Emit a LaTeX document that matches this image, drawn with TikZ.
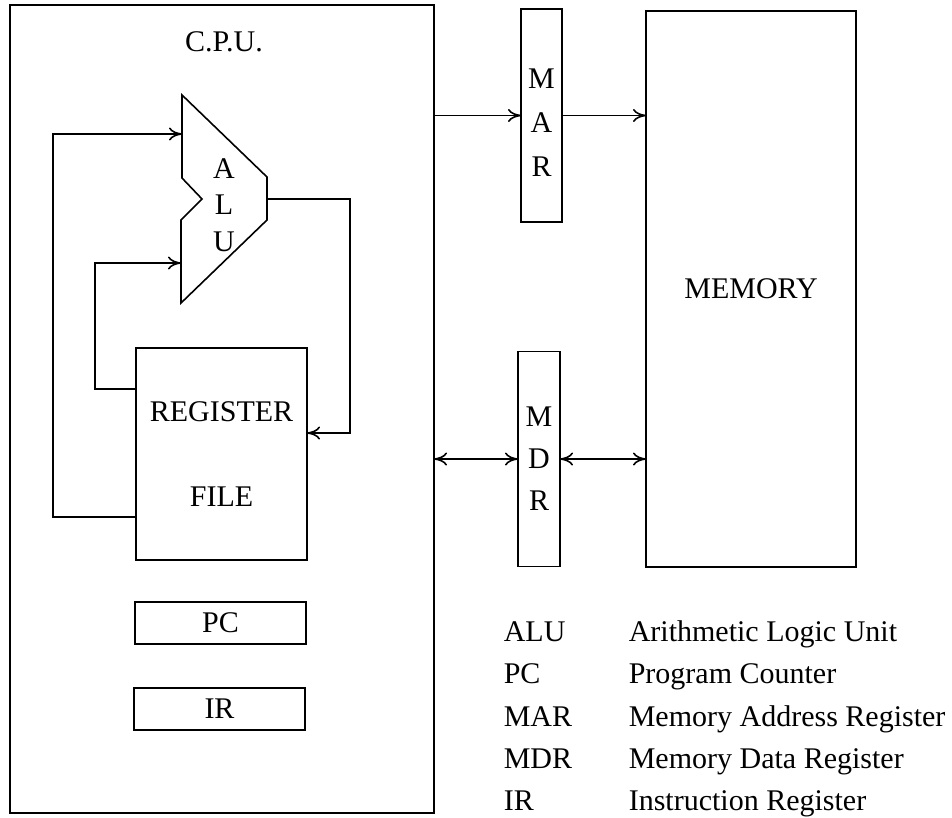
\documentclass[tikz,border=0pt]{standalone}
\usepackage{fontspec}
\setmainfont{Liberation Serif}
\usetikzlibrary{arrows.meta}

\begin{document}
\begin{tikzpicture}[x = 1pt, y = -1pt, line width = 1.6pt,
						>={To[length=13pt, width=13pt]},
						font=\fontsize{30}{36}\selectfont,
						unit/.style={draw, inner sep=0pt, outer sep=0pt, align=center},
						legend/.style={anchor=base west, inner sep=0pt},
						]
	
		\useasboundingbox (0, 0) rectangle (952, 817);
		
		% C.P.U. frame
		\node[unit, minimum width = 424, minimum height = 808] (cpu) at (222, 409) {};
		\node (cpuLabel) at (224, 42) {C.P.U.};
		
		% ALU
		\draw (182, 95) -- (267, 177) -- (267, 220) -- (181, 303) -- (181, 220)
			-- (202, 199) -- (182, 178) -- cycle;
		\node[align=center, font=\fontsize{30}{36.5}\selectfont] (aluLabel) at (224, 205) {A\\L\\U};
		\coordinate (aluInA) at (182, 134);
		\coordinate (aluInB) at (181, 263);
		\coordinate (aluOut) at (267, 199);
		
		% Register file, PC and IR
		\node[unit, minimum width = 171, minimum height = 212,
			font=\fontsize{30}{85}\selectfont] (regfile) at (221.5, 454) {REGISTER\\FILE};
		\node[unit, minimum width = 171, minimum height = 42] (pc) at (220.5, 623) {PC};
		\node[unit, minimum width = 171, minimum height = 42] (ir) at (219.5, 709) {IR};
		
		% Data paths inside the C.P.U.
		\draw[->] ([yshift = -63pt]regfile.west) -- ++(-83, 0) |- (aluInA);
		\draw[->] ([yshift = 65pt]regfile.west) -- ++(-41, 0) |- (aluInB);
		\draw[->] (aluOut) -- ++(83, 0) |- ([yshift = 21pt]regfile.east);
		
		% MAR, MDR and memory
		\node[unit, minimum width = 41, minimum height = 213,
			font=\fontsize{30}{44}\selectfont] (mar) at (541.5, 115.5) {\\[-10pt]M\\A\\R};
		\node[unit, minimum width = 42, minimum height = 215,
			font=\fontsize{30}{42}\selectfont] (mdr) at (539, 459) {M\\D\\R};
		\node[unit, minimum width = 210, minimum height = 556] (memory) at (751, 289) {MEMORY};
		
		% Buses
		\draw[->] (cpu.east |- mar.west) -- (mar.west);
		\draw[->] (mar.east) -- (memory.west |- mar.east);
		\draw[<->] (cpu.east |- mdr.west) -- (mdr.west);
		\draw[<->] (mdr.east) -- (memory.west |- mdr.east);
		
		% Legend
		\node[legend] (keyALU) at (503, 641) {ALU};
		\node[legend] (keyPC) at (503, 683) {PC};
		\node[legend] (keyMAR) at (503, 726) {MAR};
		\node[legend] (keyMDR) at (503, 768) {MDR};
		\node[legend] (keyIR) at (503, 810) {IR};
		\node[legend] (textALU) at (628, 641) {Arithmetic Logic Unit};
		\node[legend] (textPC) at (628, 683) {Program Counter};
		\node[legend] (textMAR) at (628, 726) {Memory Address Register};
		\node[legend] (textMDR) at (628, 768) {Memory Data Register};
		\node[legend] (textIR) at (628, 810) {Instruction Register};
		
	\end{tikzpicture}
\end{document}
